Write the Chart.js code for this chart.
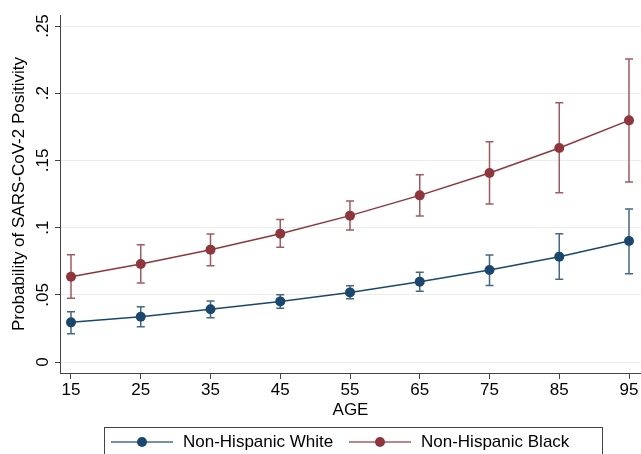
<!DOCTYPE html>
<html>
<head>
<meta charset="utf-8">
<script src="https://cdn.jsdelivr.net/npm/chart.js@4"></script>
<style>
  html, body { margin: 0; padding: 0; background: #fff; }
  #wrap { width: 641px; height: 454px; }
</style>
</head>
<body>
<div id="wrap"><canvas id="c" width="641" height="454"></canvas></div>
<script>
const ages = [15, 25, 35, 45, 55, 65, 75, 85, 95];
const yTicks = [0, 0.05, 0.1, 0.15, 0.2, 0.25];
const yTickLabels = ['0', '.05', '.1', '.15', '.2', '.25'];

const seriesNames = ['Non-Hispanic White', 'Non-Hispanic Black'];
const white   = [0.0295, 0.0337, 0.0392, 0.0451, 0.0518, 0.0598, 0.0685, 0.0784, 0.0900];
const whiteLo = [0.0210, 0.0263, 0.0330, 0.0400, 0.0471, 0.0526, 0.0570, 0.0615, 0.0657];
const whiteHi = [0.0374, 0.0411, 0.0454, 0.0500, 0.0568, 0.0667, 0.0796, 0.0955, 0.1138];
const black   = [0.0635, 0.0729, 0.0836, 0.0955, 0.1089, 0.1240, 0.1406, 0.1592, 0.1798];
const blackLo = [0.0474, 0.0588, 0.0717, 0.0853, 0.0982, 0.1086, 0.1176, 0.1260, 0.1339];
const blackHi = [0.0798, 0.0873, 0.0952, 0.1060, 0.1198, 0.1394, 0.1639, 0.1930, 0.2254];

const BLUE = '#1a476f';
const RED = '#90353b';
const FONT = 'Liberation Sans, Arial, Helvetica, sans-serif';
const FS = 17;

function pts(vals) { return ages.map((a, i) => ({ x: a, y: vals[i] })); }

const errBars = [
  { lo: whiteLo, hi: whiteHi, color: 'rgba(26,71,111,0.82)' },
  { lo: blackLo, hi: blackHi, color: 'rgba(144,53,59,0.82)' }
];

const errPlugin = {
  id: 'errbars',
  beforeDatasetsDraw(chart) {
    const ctx = chart.ctx, xs = chart.scales.x, ys = chart.scales.y;
    ctx.save();
    ctx.lineWidth = 1.5;
    errBars.forEach(eb => {
      ctx.strokeStyle = eb.color;
      ages.forEach((a, i) => {
        const px = xs.getPixelForValue(a);
        const p1 = ys.getPixelForValue(eb.lo[i]);
        const p2 = ys.getPixelForValue(eb.hi[i]);
        ctx.beginPath();
        ctx.moveTo(px, p1); ctx.lineTo(px, p2);
        ctx.moveTo(px - 4, p1); ctx.lineTo(px + 4, p1);
        ctx.moveTo(px - 4, p2); ctx.lineTo(px + 4, p2);
        ctx.stroke();
      });
    });
    ctx.restore();
  }
};

const decoPlugin = {
  id: 'deco',
  afterDraw(chart) {
    const ctx = chart.ctx, ys = chart.scales.y;
    ctx.save();
    ctx.fillStyle = '#000';
    ctx.font = FS + 'px ' + FONT;
    ctx.textAlign = 'center';
    ctx.textBaseline = 'middle';
    yTicks.forEach((v, i) => {
      const py = ys.getPixelForValue(v);
      ctx.save();
      ctx.translate(43, py);
      ctx.rotate(-Math.PI / 2);
      ctx.fillText(yTickLabels[i], 0, 0);
      ctx.restore();
    });
    // legend
    const bx = 104.5, by = 427.5, bw = 498, bh = 40;
    ctx.fillStyle = '#fff';
    ctx.fillRect(bx, by, bw, bh);
    ctx.strokeStyle = '#444';
    ctx.lineWidth = 1;
    ctx.strokeRect(bx, by, bw, bh);
    const items = [
      { x0: 111, x1: 173, text: seriesNames[0], color: BLUE, lc: 'rgba(26,71,111,0.8)' },
      { x0: 349, x1: 411, text: seriesNames[1], color: RED, lc: 'rgba(144,53,59,0.8)' }
    ];
    const ly = 442;
    items.forEach(it => {
      ctx.strokeStyle = it.lc;
      ctx.lineWidth = 1.5;
      ctx.beginPath();
      ctx.moveTo(it.x0, ly); ctx.lineTo(it.x1, ly);
      ctx.stroke();
      ctx.fillStyle = it.color;
      ctx.beginPath();
      ctx.arc((it.x0 + it.x1) / 2, ly, 5, 0, Math.PI * 2);
      ctx.fill();
      ctx.fillStyle = '#000';
      ctx.font = FS + 'px ' + FONT;
      ctx.textAlign = 'left';
      ctx.textBaseline = 'middle';
      ctx.fillText(it.text, it.x1 + 10, ly);
    });
    ctx.restore();
  }
};

new Chart(document.getElementById('c'), {
  type: 'line',
  data: {
    datasets: [
      { label: seriesNames[0], data: pts(white), borderColor: BLUE, backgroundColor: BLUE,
        borderWidth: 1.5, pointRadius: 5, pointBorderWidth: 0, pointBackgroundColor: BLUE, tension: 0 },
      { label: seriesNames[1], data: pts(black), borderColor: RED, backgroundColor: RED,
        borderWidth: 1.5, pointRadius: 5, pointBorderWidth: 0, pointBackgroundColor: RED, tension: 0 }
    ]
  },
  options: {
    responsive: false,
    animation: false,
    devicePixelRatio: 1,
    layout: { autoPadding: false, padding: { top: 15, right: 0, left: 0, bottom: 0 } },
    plugins: { legend: { display: false }, tooltip: { enabled: false } },
    scales: {
      x: {
        type: 'linear',
        min: 13.423, max: 96.72,
        afterBuildTicks(s) { s.ticks = ages.map(v => ({ value: v })); },
        afterFit(s) { s.height = 81; s.paddingLeft = 0; s.paddingRight = 0; },
        grid: { drawOnChartArea: false, drawTicks: true, tickLength: 6, tickColor: '#444', lineWidth: 1 },
        border: { display: true, color: '#444', width: 1 },
        ticks: { color: '#000', font: { size: FS, family: FONT }, padding: 1, maxRotation: 0, autoSkip: false,
                 callback: v => String(v) },
        title: { display: true, text: 'AGE', color: '#000', font: { size: FS, family: FONT },
                 padding: { top: 0, bottom: 33 } }
      },
      y: {
        type: 'linear',
        min: -0.00818, max: 0.2582,
        afterBuildTicks(s) { s.ticks = yTicks.map(v => ({ value: v })); },
        afterFit(s) { s.width = 60; s.paddingTop = 0; s.paddingBottom = 0; },
        grid: { color: '#ececec', lineWidth: 1, drawTicks: true, tickLength: 5, tickColor: '#444' },
        border: { display: true, color: '#444', width: 1 },
        ticks: { display: false },
        title: { display: true, text: 'Probability of SARS-CoV-2 Positivity', color: '#000',
                 font: { size: FS, family: FONT }, padding: { top: 9, bottom: 0 } }
      }
    }
  },
  plugins: [errPlugin, decoPlugin]
});
</script>
</body>
</html>
